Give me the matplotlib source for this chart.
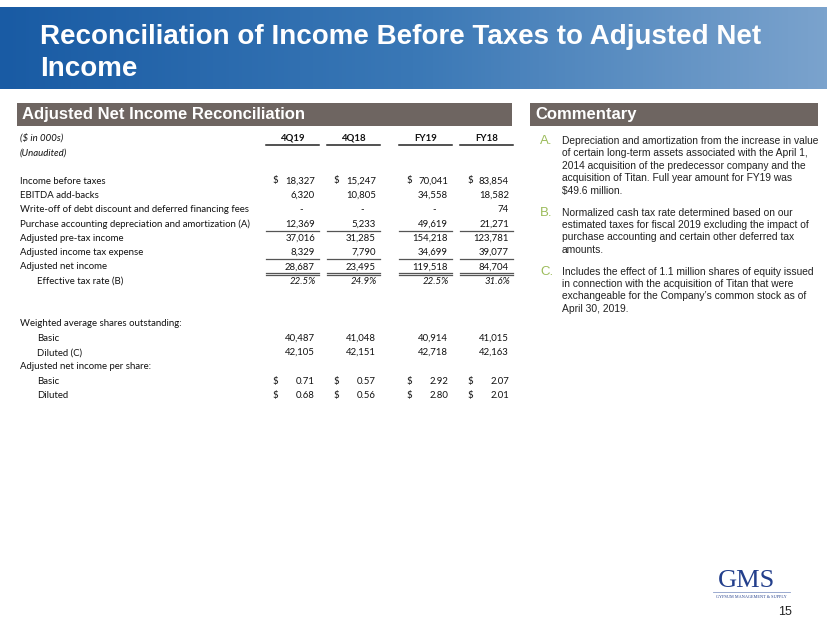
import matplotlib
matplotlib.use("Agg")
import matplotlib.pyplot as plt
import numpy as np
from matplotlib.patches import Rectangle
from matplotlib.colors import LinearSegmentedColormap

# ---------------- data ----------------
title_lines = ["Reconciliation of Income Before Taxes to Adjusted Net", "Income"]
columns = ["4Q19", "4Q18", "FY19", "FY18"]
income_before_taxes = [18327, 15247, 70041, 83854]
ebitda_addbacks = [6320, 10805, 34558, 18582]
write_off = [None, None, None, 74]
purchase_accounting = [12369, 5233, 49619, 21271]
adj_pretax_income = [37016, 31285, 154218, 123781]
adj_income_tax = [8329, 7790, 34699, 39077]
adj_net_income = [28687, 23495, 119518, 84704]
effective_tax_rate = [22.5, 24.9, 22.5, 31.6]
shares_basic = [40487, 41048, 40914, 41015]
shares_diluted = [42105, 42151, 42718, 42163]
eps_basic = [0.71, 0.57, 2.92, 2.07]
eps_diluted = [0.68, 0.56, 2.80, 2.01]

commentary = [
    ("A.", ["Depreciation and amortization from the increase in value",
            "of certain long-term assets associated with the April 1,",
            "2014 acquisition of the predecessor company and the",
            "acquisition of Titan. Full year amount for FY19 was",
            "$49.6 million."]),
    ("B.", ["Normalized cash tax rate determined based on our",
            "estimated taxes for fiscal 2019 excluding the impact of",
            "purchase accounting and certain other deferred tax",
            "amounts."]),
    ("C.", ["Includes the effect of 1.1 million shares of equity issued",
            "in connection with the acquisition of Titan that were",
            "exchangeable for the Company\u2019s common stock as of",
            "April 30, 2019."]),
]

# ---------------- figure ----------------
W, H = 830, 623
fig = plt.figure(figsize=(W / 100, H / 100), dpi=100)
ax = fig.add_axes([0, 0, 1, 1])
ax.set_xlim(0, W)
ax.set_ylim(H, 0)
ax.axis("off")

# title banner with gradient
grad = np.linspace(0, 1, 256)[None, :]
cmap = LinearSegmentedColormap.from_list("b", ["#195ba4", "#3a78b6", "#7ba3cd"])
ax.imshow(grad, cmap=cmap, aspect="auto", extent=[0, 826, 89, 7], zorder=0)
for i, t in enumerate(title_lines):
    ax.text(40, 37 + 32 * i, t, color="white", fontsize=20, fontweight="bold",
            family="Liberation Sans", va="center", ha="left")

# section headers
hdr_col = "#6e6561"
ax.add_patch(Rectangle((17, 103), 495, 23, color=hdr_col, lw=0))
ax.text(22, 115, "Adjusted Net Income Reconciliation", color="white", fontsize=12,
        fontweight="bold", family="Liberation Sans", va="center")
ax.add_patch(Rectangle((530, 103), 288, 23, color=hdr_col, lw=0))
ax.text(535, 115, "Commentary", color="white", fontsize=12,
        fontweight="bold", family="Liberation Sans", va="center")

# ---------------- table ----------------
tf = dict(family="Lato", fontsize=6.9, color="#111111", va="center")
dollar_x = [272, 333, 406, 467]
right_x = [315, 376, 448, 509]
ul_l = [266, 327, 399, 460]
ul_r = [319, 380, 452, 513]
line_col = "#555555"

ax.text(20, 138, "($ in 000s)", style="italic", **tf)
ax.text(20, 153, "(Unaudited)", style="italic", **tf)
for c, l, r in zip(columns, ul_l, ul_r):
    ax.text((l + r) / 2, 138.5, c, ha="center", fontweight="bold", **tf)
    ax.plot([l, r], [145, 145], color="#222222", lw=1.1)

def fmt(v):
    return "-" if v is None else f"{v:,}"

y0, dy = 181, 14.3
rows = [
    ("Income before taxes", income_before_taxes, True),
    ("EBITDA add-backs", ebitda_addbacks, False),
    ("Write-off of debt discount and deferred financing fees", write_off, False),
    ("Purchase accounting depreciation and amortization (A)", purchase_accounting, False),
    ("Adjusted pre-tax income", adj_pretax_income, False),
    ("Adjusted income tax expense", adj_income_tax, False),
    ("Adjusted net income", adj_net_income, False),
]
for k, (label, vals, dollar) in enumerate(rows):
    y = y0 + k * dy
    ax.text(20, y, label, **tf)
    for i, v in enumerate(vals):
        rx = right_x[i] - (12 if v is None else 0)
        ax.text(rx, y, fmt(v), ha="right", **tf)
        if dollar:
            ax.text(dollar_x[i], y, "$", ha="left", **tf)

# rule lines
for l, r in zip(ul_l, ul_r):
    ax.plot([l, r], [230.5, 230.5], color=line_col, lw=0.9)
    ax.plot([l, r], [259, 259], color=line_col, lw=0.9)
    ax.plot([l, r], [272.6, 272.6], color=line_col, lw=0.9)
    ax.plot([l, r], [274.6, 274.6], color=line_col, lw=0.9)

y_eff = y0 + 7 * dy
ax.text(37, y_eff, "Effective tax rate (B)", **tf)
for i, v in enumerate(effective_tax_rate):
    ax.text(right_x[i] + 1, y_eff, f"{v:.1f}%", ha="right", style="italic", **tf)

y1 = 324
ax.text(20, y1, "Weighted average shares outstanding:", **tf)
ax.text(37, y1 + dy, "Basic", **tf)
ax.text(37, y1 + 2 * dy, "Diluted (C)", **tf)
for i in range(4):
    ax.text(right_x[i], y1 + dy, f"{shares_basic[i]:,}", ha="right", **tf)
    ax.text(right_x[i], y1 + 2 * dy, f"{shares_diluted[i]:,}", ha="right", **tf)
ax.text(20, y1 + 3 * dy, "Adjusted net income per share:", **tf)
ax.text(37, y1 + 4 * dy, "Basic", **tf)
ax.text(37, y1 + 5 * dy, "Diluted", **tf)
for i in range(4):
    ax.text(dollar_x[i], y1 + 4 * dy, "$", **tf)
    ax.text(dollar_x[i], y1 + 5 * dy, "$", **tf)
    ax.text(right_x[i], y1 + 4 * dy, f"{eps_basic[i]:.2f}", ha="right", **tf)
    ax.text(right_x[i], y1 + 5 * dy, f"{eps_diluted[i]:.2f}", ha="right", **tf)

# ---------------- commentary ----------------
cf = dict(family="Liberation Sans", fontsize=7.4, color="#222222", va="center")
y = 141
for letter, lines in commentary:
    ax.text(540, y, letter, color="#9bbb59", family="Liberation Sans", fontsize=9.5, va="center")
    for ln in lines:
        ax.text(562, y, ln, **cf)
        y += 12.4
    y += 9.5

# ---------------- logo & page number ----------------
ax.text(746, 581, "GMS", family="Liberation Serif", fontsize=19, color="#233f8c",
        ha="center", va="center")
ax.plot([713, 790], [592, 592], color="#8a9cc8", lw=0.6)
ax.text(751, 596.5, "GYPSUM MANAGEMENT & SUPPLY", family="Liberation Serif", fontsize=3.1,
        color="#233f8c", ha="center", va="center")
ax.text(785, 612, "15", family="Liberation Sans", fontsize=9, color="#222222",
        ha="center", va="center")

fig.savefig("out.png", dpi=100)
